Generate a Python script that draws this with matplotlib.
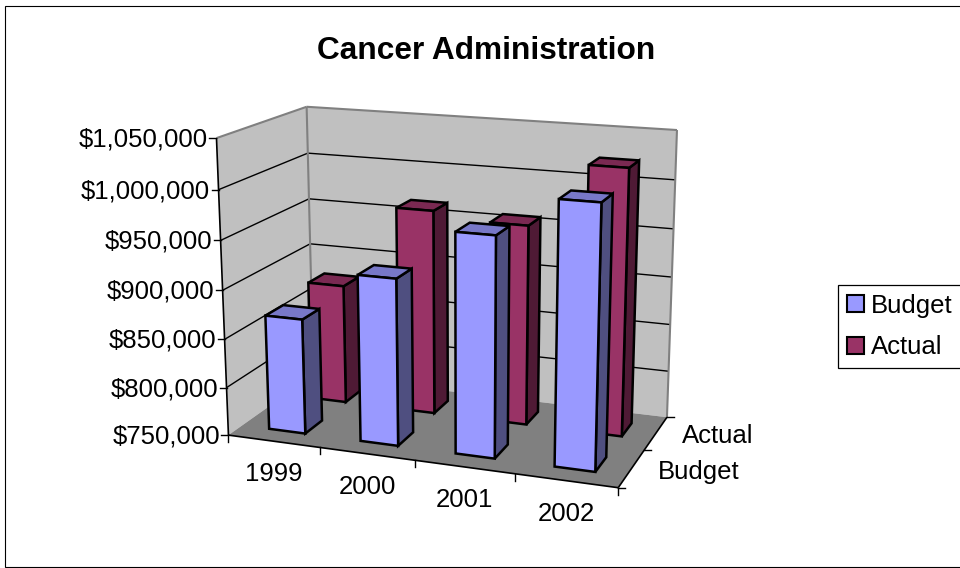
import numpy as np
import matplotlib
matplotlib.use("Agg")
import matplotlib.pyplot as plt
from matplotlib.patches import Polygon, Patch, Rectangle

plt.rcParams['font.family'] = ['Liberation Sans', 'DejaVu Sans']

title = "Cancer Administration"
years = ["1999", "2000", "2001", "2002"]
series = ["Budget", "Actual"]
budget = [869000, 920000, 971000, 1010000]
actual = [877000, 965000, 958000, 1023000]
value_ticks = [750000, 800000, 850000, 900000, 950000, 1000000, 1050000]

VMIN, VMAX = value_ticks[0], value_ticks[-1]
NX, ND = len(years), len(series)

# perspective camera fitted to the eight corners of the plot box (pixels)
box = [((0, 0, VMIN), (228, 436)), ((NX, 0, VMIN), (618, 487)),
       ((0, ND, VMIN), (314, 374)), ((NX, ND, VMIN), (667, 418)),
       ((0, 0, VMAX), (217, 138)), ((NX, 0, VMAX), (627, 167)),
       ((0, ND, VMAX), (306, 107)), ((NX, ND, VMAX), (677, 130))]


def norm(x, d, v):
    return x / NX, d / ND, (v - VMIN) / (VMAX - VMIN)


A, b = [], []
for (x, d, v), (u, w) in box:
    X = (*norm(x, d, v), 1.0)
    A.append([*X, 0, 0, 0, 0, *[-u * c for c in X[:3]]])
    b.append(u * 1.0)
    A.append([0, 0, 0, 0, *X, *[-w * c for c in X[:3]]])
    b.append(w * 1.0)
sol = np.linalg.lstsq(np.array(A, float), np.array(b, float), rcond=None)[0]
P = np.append(sol, 1.0).reshape(3, 4)


def proj(x, d, v):
    h = P @ np.array([*norm(x, d, v), 1.0])
    return h[0] / h[2], h[1] / h[2]


fig = plt.figure(figsize=(9.6, 5.68), dpi=100)
ax = fig.add_axes([0, 0, 1, 1])
ax.set_xlim(0, 960)
ax.set_ylim(568, 0)
ax.axis('off')

PX = 0.72  # points per pixel at dpi 100
LABEL = 25.8 * PX

ax.add_patch(Rectangle((4.5, 5.5), 1000, 561.5, fc='white', ec='black', lw=0.8, zorder=0))
ax.text(486, 51, title, fontsize=31.7 * PX, fontweight='bold', ha='center', va='center')


def face(pts, fc, z, ec='black', lw=1.8):
    ax.add_patch(Polygon([proj(*p) for p in pts], closed=True, fc=fc, ec=ec, lw=lw,
                         joinstyle='miter', zorder=z))


def line(p, q, color='black', lw=1.0, z=2):
    a, c = proj(*p), proj(*q)
    ax.plot([a[0], c[0]], [a[1], c[1]], color=color, lw=lw, zorder=z, solid_capstyle='butt')


GRAY = '#808080'
# walls and floor
face([(0, 0, VMIN), (0, ND, VMIN), (0, ND, VMAX), (0, 0, VMAX)], '#C0C0C0', 1, ec='none')
face([(0, ND, VMIN), (NX, ND, VMIN), (NX, ND, VMAX), (0, ND, VMAX)], '#C0C0C0', 1, ec='none')
face([(0, 0, VMIN), (NX, 0, VMIN), (NX, ND, VMIN), (0, ND, VMIN)], GRAY, 1, ec='none')

for v in value_ticks[1:-1]:
    line((0, 0, v), (0, ND, v))
    line((0, ND, v), (NX, ND, v))
line((0, 0, VMAX), (0, ND, VMAX), GRAY, 1.5)
line((0, ND, VMAX), (NX, ND, VMAX), GRAY, 1.5)
line((0, ND, VMIN), (0, ND, VMAX), GRAY, 1.5)
line((NX, ND, VMIN), (NX, ND, VMAX), GRAY, 1.5)

# axis lines and ticks
line((0, 0, VMIN), (0, 0, VMAX), 'black', 1.2, 3)
line((0, 0, VMIN), (NX, 0, VMIN), 'black', 1.2, 3)
line((NX, 0, VMIN), (NX, ND, VMIN), 'black', 1.2, 3)

for v in value_ticks:
    x0, y0 = proj(0, 0, v)
    ax.plot([x0 - 7, x0], [y0, y0], color='black', lw=1.0, zorder=3)
    ax.text(x0 - 8.5, y0 + 1.5, f"${v:,}", fontsize=LABEL, ha='right', va='center')
for i in range(NX + 1):
    x0, y0 = proj(i, 0, VMIN)
    ax.plot([x0, x0], [y0, y0 + 7], color='black', lw=1.0, zorder=3)
for i, y in enumerate(years):
    x0, y0 = proj(i + 0.5, 0, VMIN)
    ax.text(x0, y0 + 33, y, fontsize=LABEL, ha='center', va='center')
for s in range(ND + 1):
    x0, y0 = proj(NX, s, VMIN)
    ax.plot([x0, x0 + 7], [y0, y0], color='black', lw=1.0, zorder=3)
for s, name in enumerate(series):
    x0, y0 = proj(NX, s + 0.5, VMIN)
    ax.text(x0 + 26.5, y0 + 3, name, fontsize=LABEL, ha='left', va='center')

GAP = 0.3
WIDTH = 0.4
colors = {"Budget": ('#9999FF', '#4F4F80', '#7878C8'),
          "Actual": ('#993366', '#4F1A35', '#7A2952')}
z = 5
for s, (name, vals) in reversed(list(enumerate(zip(series, [budget, actual])))):
    front, side, top = colors[name]
    d0, d1 = s + GAP, s + GAP + WIDTH
    for i, v in enumerate(vals):
        x0, x1 = i + GAP, i + GAP + WIDTH
        face([(x1, d0, VMIN), (x1, d1, VMIN), (x1, d1, v), (x1, d0, v)], side, z)
        face([(x0, d0, v), (x1, d0, v), (x1, d1, v), (x0, d1, v)], top, z)
        face([(x0, d0, VMIN), (x1, d0, VMIN), (x1, d0, v), (x0, d0, v)], front, z)
        z += 1

handles = [Patch(fc=colors[n][0], ec='black', lw=1.5, label=n) for n in series]
leg = ax.legend(handles=handles, loc='center left', bbox_to_anchor=(838, 326.5),
                bbox_transform=ax.transData, fontsize=LABEL, frameon=True, fancybox=False,
                edgecolor='black', framealpha=1, handlelength=0.66, handleheight=0.66,
                handletextpad=0.27, labelspacing=0.68, borderpad=0.35, borderaxespad=0)
leg.get_frame().set_linewidth(0.9)
leg.set_zorder(50)

fig.savefig('out.png', dpi=100)
